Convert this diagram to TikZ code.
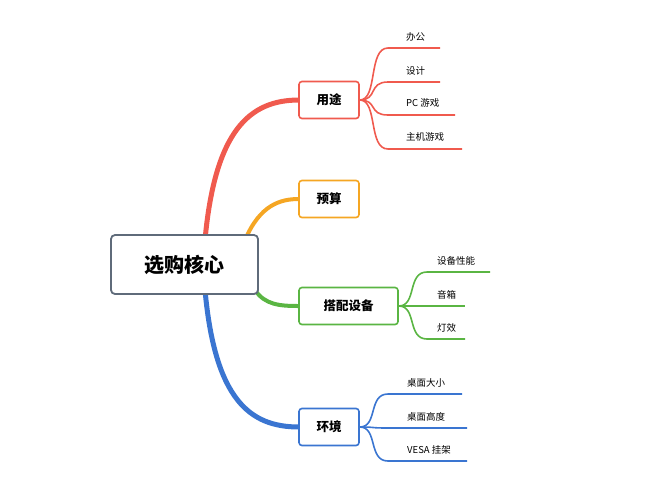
\documentclass[tikz,border=0pt]{standalone}
\usepackage{fontspec}
\setmainfont{Noto Sans CJK SC}
\begin{document}
\begin{tikzpicture}[x=1pt,y=-1pt,
  box/.style={draw=#1,line width=1.6pt,rounded corners=3pt,fill=white,font=\bfseries\fontsize{12.5}{14}\selectfont,minimum height=37pt,inner xsep=8pt},
  leaf/.style={font=\fontsize{9.5}{11}\selectfont,anchor=south west,inner sep=1pt},
  br/.style={draw=#1,line width=1.6pt}]
\useasboundingbox (0,0) rectangle (650,483);
\definecolor{cr}{HTML}{F05A4E}\definecolor{co}{HTML}{F5A623}
\definecolor{cg}{HTML}{5AB543}\definecolor{cb}{HTML}{3A75D1}\definecolor{cgr}{HTML}{5F6B7A}
% main branches
\draw[cr,line width=5pt] (205,240) .. controls (215,130) and (250,100) .. (299,100);
\draw[cb,line width=5pt] (205,290) .. controls (215,400) and (250,427) .. (299,427);
\draw[co,line width=4pt] (245,240) .. controls (260,205) and (280,199) .. (299,199);
\draw[cg,line width=4pt] (255,290) .. controls (265,305) and (280,306) .. (299,306);
\node[draw=cgr,line width=1.8pt,rounded corners=4pt,fill=white,font=\bfseries\fontsize{20}{22}\selectfont,minimum width=147pt,minimum height=59pt] (root) at (184.5,264.5) {选购核心};
\node[box=cr,minimum width=60pt] (yt) at (329,100) {用途};
\node[box=co,minimum width=60pt] (ys) at (329,199) {预算};
\node[box=cg,minimum width=99pt] (dp) at (348.5,306) {搭配设备};
\node[box=cb,minimum width=60pt] (hj) at (329,427) {环境};
% leaves
\foreach \t/\y/\e [count=\i] in {办公/48/440,设计/82/440,PC 游戏/115/455,主机游戏/149/462}{
  \coordinate (r\i) at (\e,\y);
  \draw[br=cr] (yt.east) .. controls (378,100) and (368,\y) .. (388,\y) -- (r\i);
  \node[leaf] at (405,\y-6) {\t};}
\foreach \t/\y/\e [count=\i] in {设备性能/272/490,音箱/306/465,灯效/339/465}{
  \coordinate (g\i) at (\e,\y);
  \draw[br=cg] (dp.east) .. controls (417,306) and (407,\y) .. (427,\y) -- (g\i);
  \node[leaf] at (436,\y-6) {\t};}
\foreach \t/\y/\e [count=\i] in {桌面大小/394/462,桌面高度/428/467,VESA 挂架/461/467}{
  \coordinate (b\i) at (\e,\y);
  \draw[br=cb] (hj.east) .. controls (378,427) and (368,\y) .. (388,\y) -- (b\i);
  \node[leaf] at (406,\y-6) {\t};}
\end{tikzpicture}
\end{document}
